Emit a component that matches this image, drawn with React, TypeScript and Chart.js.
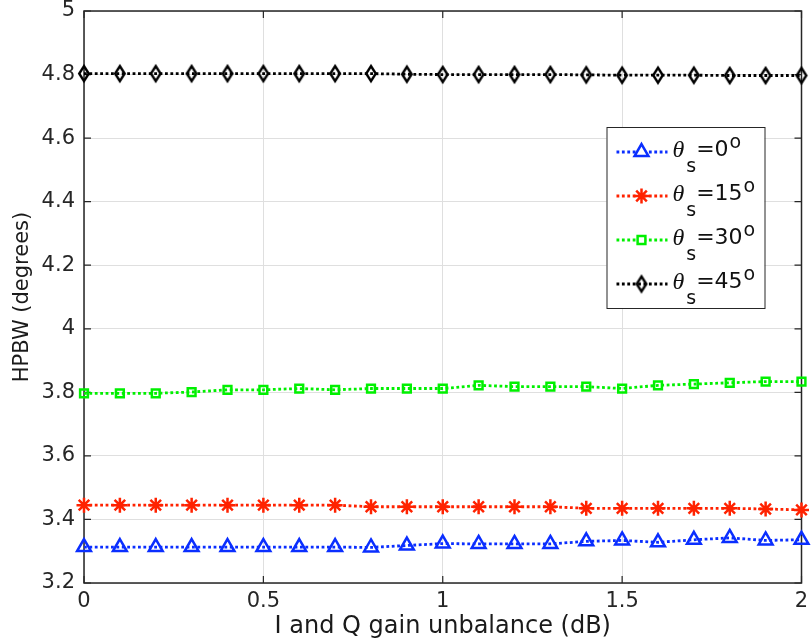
import React, { useEffect, useRef } from 'react';
import { Chart, registerables } from 'chart.js';
import { drawPoint } from 'chart.js/helpers';

Chart.register(...registerables);

// ---- data ----
const xValues = [0, 0.1, 0.2, 0.3, 0.4, 0.5, 0.6, 0.7, 0.8, 0.9, 1.0, 1.1, 1.2, 1.3, 1.4, 1.5, 1.6, 1.7, 1.8, 1.9, 2.0];
const xTicks = [0, 0.5, 1, 1.5, 2];
const yTicks = [3.2, 3.4, 3.6, 3.8, 4.0, 4.2, 4.4, 4.6, 4.8, 5.0];

const hpbwTheta0 = [3.313, 3.313, 3.313, 3.313, 3.313, 3.313, 3.313, 3.313, 3.312, 3.318, 3.324, 3.323, 3.323, 3.323, 3.331, 3.334, 3.328, 3.336, 3.342, 3.334, 3.336];
const hpbwTheta15 = [3.445, 3.445, 3.445, 3.445, 3.445, 3.445, 3.445, 3.445, 3.440, 3.440, 3.440, 3.440, 3.440, 3.440, 3.435, 3.435, 3.435, 3.435, 3.435, 3.433, 3.430];
const hpbwTheta30 = [3.797, 3.797, 3.797, 3.801, 3.808, 3.808, 3.812, 3.808, 3.812, 3.812, 3.812, 3.822, 3.818, 3.818, 3.818, 3.812, 3.822, 3.826, 3.830, 3.834, 3.834];
const hpbwTheta45 = [4.803, 4.803, 4.803, 4.803, 4.803, 4.803, 4.803, 4.803, 4.803, 4.801, 4.800, 4.800, 4.800, 4.800, 4.799, 4.798, 4.798, 4.798, 4.797, 4.797, 4.797];

const seriesAngles = ['0', '15', '30', '45'];

const xTitle = 'I and Q gain unbalance (dB)';
const yTitle = 'HPBW (degrees)';

function makeDiamond(color: string): HTMLCanvasElement {
  const c = document.createElement('canvas');
  c.width = 16;
  c.height = 21;
  const g = c.getContext('2d')!;
  g.strokeStyle = color;
  g.lineWidth = 2.4;
  g.lineJoin = 'miter';
  g.beginPath();
  g.moveTo(8, 3);
  g.lineTo(12.8, 10.5);
  g.lineTo(8, 18);
  g.lineTo(3.2, 10.5);
  g.closePath();
  g.stroke();
  return c;
}

const framePlugin = {
  id: 'frame',
  beforeDatasetsDraw(chart: any) {
    const { ctx, chartArea } = chart;
    const { left, right, top, bottom } = chartArea;
    const xs = chart.scales.x;
    const ys = chart.scales.y;
    ctx.save();
    ctx.strokeStyle = '#262626';
    ctx.lineWidth = 1.5;
    ctx.strokeRect(left, top, right - left, bottom - top);
    ctx.lineWidth = 1.2;
    ctx.beginPath();
    xTicks.forEach((v) => {
      const px = xs.getPixelForValue(v);
      ctx.moveTo(px, bottom);
      ctx.lineTo(px, bottom - 7);
      ctx.moveTo(px, top);
      ctx.lineTo(px, top + 7);
    });
    yTicks.forEach((v) => {
      const py = ys.getPixelForValue(v);
      ctx.moveTo(left, py);
      ctx.lineTo(left + 7, py);
      ctx.moveTo(right, py);
      ctx.lineTo(right - 7, py);
    });
    ctx.stroke();
    ctx.restore();
  },
};

const legendPlugin = {
  id: 'thetaLegend',
  afterDraw(chart: any) {
    const { ctx, chartArea } = chart;
    const bx = chartArea.right - 195;
    const by = chartArea.top + 116;
    const bw = 158;
    const bh = 181;
    ctx.save();
    ctx.fillStyle = '#ffffff';
    ctx.fillRect(bx, by, bw, bh);
    ctx.strokeStyle = '#262626';
    ctx.lineWidth = 1;
    ctx.strokeRect(bx + 0.5, by + 0.5, bw, bh);
    chart.data.datasets.forEach((ds: any, i: number) => {
      const y = by + 25 + i * 44;
      ctx.strokeStyle = ds.borderColor;
      ctx.lineWidth = ds.borderWidth;
      ctx.setLineDash(ds.borderDash);
      ctx.beginPath();
      ctx.moveTo(bx + 10, y);
      ctx.lineTo(bx + 61, y);
      ctx.stroke();
      ctx.setLineDash([]);
      ctx.fillStyle = '#ffffff';
      ctx.strokeStyle = ds.pointBorderColor;
      ctx.lineWidth = ds.pointBorderWidth;
      drawPoint(ctx, { pointStyle: ds.pointStyle, radius: ds.pointRadius, borderWidth: ds.pointBorderWidth, rotation: 0 } as any, bx + 35, y);

      let x = bx + 66;
      ctx.fillStyle = '#111111';
      ctx.textAlign = 'left';
      ctx.textBaseline = 'alphabetic';
      ctx.font = 'italic 24px "Liberation Serif"';
      ctx.fillText('θ', x, y + 5);
      x += ctx.measureText('θ').width + 2;
      ctx.font = '19px "DejaVu Sans"';
      ctx.fillText('s', x, y + 20);
      x += ctx.measureText('s').width;
      ctx.font = '22px "DejaVu Sans"';
      const t = '=' + seriesAngles[i];
      ctx.fillText(t, x, y + 4);
      x += ctx.measureText(t).width + 1;
      ctx.font = '19px "DejaVu Sans"';
      ctx.fillText('o', x, y - 4);
    });
    ctx.restore();
  },
};

export default function App() {
  const ref = useRef<HTMLCanvasElement | null>(null);

  useEffect(() => {
    if (!ref.current) return;
    const dotted = [2.8, 2.6];
    const mk = (vals: number[]) => vals.map((v, i) => ({ x: xValues[i], y: v }));
    const datasets: any[] = [
      {
        label: 'θs=' + seriesAngles[0] + '°',
        data: mk(hpbwTheta0),
        borderColor: '#0a2eff',
        pointBorderColor: '#0a2eff',
        pointBackgroundColor: 'rgba(0,0,0,0)',
        pointStyle: 'triangle',
        pointRadius: 8,
      },
      {
        label: 'θs=' + seriesAngles[1] + '°',
        data: mk(hpbwTheta15),
        borderColor: '#ff2200',
        pointBorderColor: '#ff2200',
        pointBackgroundColor: 'rgba(0,0,0,0)',
        pointStyle: 'star',
        pointRadius: 7.5,
      },
      {
        label: 'θs=' + seriesAngles[2] + '°',
        data: mk(hpbwTheta30),
        borderColor: '#00f000',
        pointBorderColor: '#00f000',
        pointBackgroundColor: 'rgba(0,0,0,0)',
        pointStyle: 'rect',
        pointRadius: 5.5,
      },
      {
        label: 'θs=' + seriesAngles[3] + '°',
        data: mk(hpbwTheta45),
        borderColor: '#000000',
        pointBorderColor: '#000000',
        pointBackgroundColor: 'rgba(0,0,0,0)',
        pointStyle: makeDiamond('#000000'),
        pointRadius: 7,
      },
    ].map((d) => ({
      ...d,
      borderWidth: 2.8,
      borderDash: dotted,
      pointBorderWidth: 2.5,
      pointHoverRadius: d.pointRadius,
      tension: 0,
      fill: false,
      clip: false,
    }));

    const tickFont = { family: '"DejaVu Sans"', size: 21 };
    const chart = new Chart(ref.current, {
      type: 'line',
      data: { datasets },
      options: {
        responsive: false,
        animation: false,
        devicePixelRatio: 1,
        layout: { padding: { top: 11, right: 10, left: 0, bottom: 0 } },
        plugins: { legend: { display: false }, tooltip: { enabled: false } },
        scales: {
          x: {
            type: 'linear',
            min: 0,
            max: 2,
            afterBuildTicks: (s: any) => {
              s.ticks = xTicks.map((v) => ({ value: v }));
            },
            afterFit: (s: any) => {
              s.height = 61;
              s.paddingLeft = 0;
              s.paddingRight = 0;
            },
            grid: { color: '#dfdfdf', lineWidth: 1, drawTicks: false },
            border: { display: false },
            ticks: {
              font: tickFont,
              color: '#262626',
              padding: 6,
              maxRotation: 0,
              autoSkip: false,
              callback: (v: any) => String(Number(v)),
            },
            title: {
              display: true,
              text: xTitle,
              font: { family: '"DejaVu Sans"', size: 24 },
              color: '#1a1a1a',
              padding: { top: 0, bottom: 3 },
            },
          },
          y: {
            type: 'linear',
            min: 3.2,
            max: 5,
            afterBuildTicks: (s: any) => {
              s.ticks = yTicks.map((v) => ({ value: v }));
            },
            afterFit: (s: any) => {
              s.width = 84;
              s.paddingTop = 0;
              s.paddingBottom = 0;
            },
            grid: { color: '#dfdfdf', lineWidth: 1, drawTicks: false },
            border: { display: false },
            ticks: {
              font: tickFont,
              color: '#262626',
              padding: 9,
              autoSkip: false,
              callback: (v: any) => String(Number(Number(v).toFixed(1))),
            },
            title: {
              display: true,
              text: yTitle,
              font: { family: '"DejaVu Sans"', size: 21 },
              color: '#1a1a1a',
              padding: { top: 10, bottom: 0 },
            },
          },
        },
      } as any,
      plugins: [framePlugin, legendPlugin],
    });
    return () => chart.destroy();
  }, []);

  return (
    <div style={{ position: 'absolute', left: 0, top: 0, width: 812, height: 644, background: '#ffffff' }}>
      <canvas ref={ref} width={812} height={644} style={{ display: 'block' }} />
    </div>
  );
}
